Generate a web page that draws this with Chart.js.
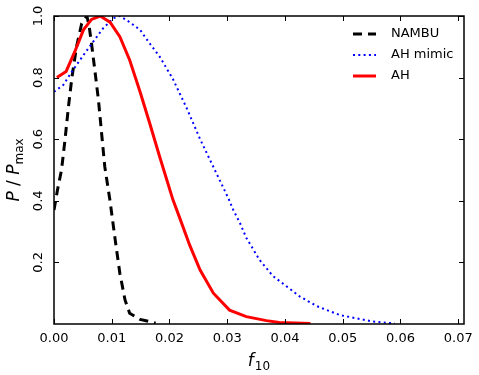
<!DOCTYPE html>
<html>
<head>
<meta charset="utf-8">
<script src="https://cdn.jsdelivr.net/npm/chart.js@4.4.0/dist/chart.umd.min.js"></script>
<style>
  html, body { margin: 0; padding: 0; background: #fff; }
</style>
</head>
<body>
<canvas id="chart" width="479" height="375"></canvas>
<script>
// tick values
const xTicks = [0, 0.01, 0.02, 0.03, 0.04, 0.05, 0.06, 0.07];
const yTicks = [0.2, 0.4, 0.6, 0.8, 1.0];

// NAMBU (schwarz, gestrichelt)
const nambuF = [0.0, 0.0006, 0.0013, 0.0019, 0.0025, 0.0031, 0.0039, 0.0048, 0.0057, 0.0061, 0.0065, 0.007, 0.0077, 0.0083, 0.0088, 0.0097, 0.0106, 0.0114, 0.0123, 0.0131, 0.0149, 0.0172, 0.0176];
const nambuP = [0.37, 0.435, 0.5, 0.597, 0.705, 0.80, 0.90, 0.976, 1.0, 0.965, 0.91, 0.835, 0.727, 0.608, 0.51, 0.40, 0.273, 0.165, 0.078, 0.035, 0.015, 0.005, 0.003];

// AH mimic (blau, gepunktet)
const mimicF = [0.0, 0.0016, 0.0033, 0.0051, 0.0068, 0.0085, 0.0103, 0.0114, 0.0131, 0.0149, 0.0166, 0.0183, 0.0206, 0.023, 0.0253, 0.0302, 0.031, 0.0322, 0.0333, 0.0356, 0.0379, 0.0426, 0.0455, 0.0495, 0.0552, 0.059];
const mimicP = [0.754, 0.776, 0.825, 0.873, 0.917, 0.96, 0.993, 1.0, 0.98, 0.955, 0.91, 0.868, 0.795, 0.70, 0.60, 0.408, 0.372, 0.328, 0.28, 0.208, 0.156, 0.089, 0.058, 0.029, 0.008, 0.002];

// AH (rot)
const ahF = [0.0005, 0.0021, 0.0036, 0.0051, 0.0065, 0.008, 0.0097, 0.0114, 0.0131, 0.0149, 0.0166, 0.0183, 0.0206, 0.0218, 0.0235, 0.0253, 0.0276, 0.0304, 0.0333, 0.0368, 0.039, 0.0444];
const ahP = [0.80, 0.82, 0.884, 0.955, 0.989, 1.0, 0.98, 0.933, 0.857, 0.754, 0.65, 0.543, 0.403, 0.343, 0.256, 0.175, 0.10, 0.045, 0.024, 0.011, 0.005, 0.002];

function toPoints(fs, ps) {
    return fs.map((f, i) => ({ x: f, y: ps[i] }));
}

const FONT = '"DejaVu Sans", sans-serif';

const axesPlugin = {
    id: 'mplAxes',
    afterDraw: (chart) => {
        const { ctx, chartArea: a } = chart;
        const xs = chart.scales.x, ys = chart.scales.y;
        ctx.save();
        ctx.strokeStyle = '#000';
        ctx.fillStyle = '#000';

        // ticks nach innen, alle vier Seiten
        ctx.lineWidth = 1;
        ctx.beginPath();
        xTicks.forEach(v => {
            const px = Math.round(xs.getPixelForValue(v)) + 0.5;
            ctx.moveTo(px, a.bottom); ctx.lineTo(px, a.bottom - 5);
            ctx.moveTo(px, a.top); ctx.lineTo(px, a.top + 5);
        });
        yTicks.forEach(v => {
            const py = Math.round(ys.getPixelForValue(v)) + 0.5;
            ctx.moveTo(a.left, py); ctx.lineTo(a.left + 5, py);
            ctx.moveTo(a.right, py); ctx.lineTo(a.right - 5, py);
        });
        ctx.stroke();

        // Rahmen
        ctx.lineWidth = 1.5;
        ctx.strokeRect(a.left, a.top, a.right - a.left, a.bottom - a.top);

        // x tick labels
        ctx.font = '13px ' + FONT;
        ctx.textAlign = 'center';
        ctx.textBaseline = 'middle';
        xTicks.forEach(v => {
            ctx.fillText(v.toFixed(2), xs.getPixelForValue(v), a.bottom + 15);
        });

        // y tick labels (gedreht)
        yTicks.forEach(v => {
            ctx.save();
            ctx.translate(a.left - 15, ys.getPixelForValue(v));
            ctx.rotate(-Math.PI / 2);
            ctx.fillText(v.toFixed(1), 0, 0);
            ctx.restore();
        });

        // x title: f_10
        const big = 'italic 17px ' + FONT;
        const small = '12px ' + FONT;
        ctx.textAlign = 'left';
        ctx.textBaseline = 'alphabetic';
        ctx.font = big;
        const wf = ctx.measureText('f').width;
        ctx.font = small;
        const w10 = ctx.measureText('10').width;
        let x0 = (a.left + a.right) / 2 - (wf + w10 + 1) / 2;
        ctx.font = big;
        ctx.fillText('f', x0, 366);
        ctx.font = small;
        ctx.fillText('10', x0 + wf + 1, 370);

        // y title: P / P_max
        ctx.save();
        ctx.translate(19, (a.top + a.bottom) / 2);
        ctx.rotate(-Math.PI / 2);
        ctx.font = big;
        const wP = ctx.measureText('P').width;
        ctx.font = '17px ' + FONT;
        const wS = ctx.measureText(' / ').width;
        ctx.font = small;
        const wM = ctx.measureText('max').width;
        let t = -(2 * wP + wS + wM) / 2;
        ctx.font = big;
        ctx.fillText('P', t, 0); t += wP;
        ctx.font = '17px ' + FONT;
        ctx.fillText(' / ', t, 0); t += wS;
        ctx.font = big;
        ctx.fillText('P', t, 0); t += wP;
        ctx.font = small;
        ctx.fillText('max', t, 4);
        ctx.restore();

        // Legende oben rechts
        const rows = [34, 55, 76];
        ctx.font = '13px ' + FONT;
        ctx.textBaseline = 'middle';
        chart.data.datasets.forEach((ds, i) => {
            const y = rows[i];
            ctx.save();
            ctx.strokeStyle = ds.borderColor;
            ctx.lineWidth = ds.borderWidth;
            ctx.setLineDash(ds.borderDash || []);
            ctx.beginPath();
            ctx.moveTo(353, y);
            ctx.lineTo(376, y);
            ctx.stroke();
            ctx.restore();
            ctx.fillText(ds.label, 391, y);
        });

        ctx.restore();
    }
};

const ctx = document.getElementById('chart').getContext('2d');
window.pChart = new Chart(ctx, {
    type: 'scatter',
    data: {
        datasets: [
            {
                label: 'NAMBU',
                data: toPoints(nambuF, nambuP),
                borderColor: '#000000',
                borderWidth: 3,
                borderDash: [9, 6],
                showLine: true,
                pointRadius: 0,
                order: 3
            },
            {
                label: 'AH mimic',
                data: toPoints(mimicF, mimicP),
                borderColor: '#0000ff',
                borderWidth: 2,
                borderDash: [2, 3.3],
                showLine: true,
                pointRadius: 0,
                order: 2
            },
            {
                label: 'AH',
                data: toPoints(ahF, ahP),
                borderColor: '#ff0000',
                borderWidth: 3,
                showLine: true,
                pointRadius: 0,
                order: 1
            }
        ]
    },
    options: {
        responsive: false,
        animation: false,
        layout: { padding: { left: 0, top: 16, right: 15, bottom: 0 } },
        plugins: {
            legend: { display: false },
            tooltip: { enabled: false }
        },
        scales: {
            x: {
                type: 'linear',
                min: 0,
                max: 0.071,
                ticks: { display: false },
                grid: { display: false },
                border: { display: false },
                afterFit: (s) => { s.height = 51; }
            },
            y: {
                min: 0,
                max: 1,
                ticks: { display: false },
                grid: { display: false },
                border: { display: false },
                afterFit: (s) => { s.width = 54; }
            }
        }
    },
    plugins: [axesPlugin]
});
</script>
</body>
</html>
